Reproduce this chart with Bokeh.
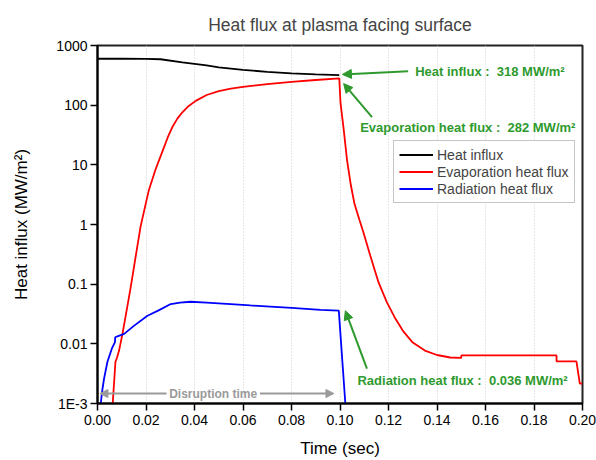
from bokeh.plotting import figure
from bokeh.models import (Range1d, FixedTicker, Legend, LegendItem, Arrow,
                          NormalHead, Label)
from bokeh.embed import file_html
from bokeh.resources import INLINE

# ---------------- data ----------------
t_influx = [0.0, 0.010, 0.020, 0.026, 0.035, 0.045, 0.050, 0.060, 0.070,
            0.080, 0.090, 0.0997]
q_influx = [600, 600, 598, 588, 520, 464, 430, 390, 362, 342, 328, 318]

t_evap = [0.0062, 0.0074, 0.0080, 0.0089, 0.0103, 0.0120, 0.0137, 0.0158,
          0.0178, 0.0195, 0.0212, 0.0240, 0.0267, 0.0290, 0.0310, 0.0330,
          0.0350, 0.0375, 0.0405, 0.0450, 0.0500, 0.0550, 0.060, 0.070,
          0.080, 0.090, 0.0997,
          0.1002, 0.1015, 0.1029, 0.1045, 0.1060, 0.1080, 0.1097, 0.1125,
          0.1159, 0.1193, 0.1225, 0.1262, 0.1300, 0.1350, 0.1400, 0.1454,
          0.1500, 0.1500, 0.1893, 0.1893, 0.1975, 0.1989, 0.2000]
q_evap = [0.0009, 0.0050, 0.0058, 0.0077, 0.0147, 0.036, 0.089, 0.30,
          0.94, 1.9, 3.8, 8.5, 16.5, 29, 44, 60,
          76, 96, 118, 148, 172, 190, 203, 225,
          245, 264, 282,
          110, 40, 12, 4.5, 2.2, 1.2, 0.73, 0.30,
          0.107, 0.050, 0.028, 0.016, 0.0105, 0.0077, 0.0065, 0.0059,
          0.0058, 0.0064, 0.0064, 0.0051, 0.0051, 0.00215, 0.00215]

t_rad = [0.0012, 0.0020, 0.0027, 0.0041, 0.0059, 0.0072, 0.0073, 0.0085,
         0.0110, 0.0150, 0.0206, 0.0250, 0.0302, 0.0340, 0.0384, 0.0450,
         0.0549, 0.0630, 0.0713, 0.0800, 0.0920, 0.0995, 0.1022, 0.1030]
q_rad = [0.0009, 0.0017, 0.0026, 0.0050, 0.0083, 0.0107, 0.0129, 0.0135,
         0.0147, 0.0200, 0.0296, 0.036, 0.0464, 0.049, 0.0507, 0.049,
         0.0464, 0.044, 0.042, 0.040, 0.037, 0.036, 0.0010, 0.0008]

series_names = ["Heat influx", "Evaporation heat flux", "Radiation heat flux"]

x_ticks = [0.00, 0.02, 0.04, 0.06, 0.08, 0.10, 0.12, 0.14, 0.16, 0.18, 0.20]
x_tick_labels = ["0.00", "0.02", "0.04", "0.06", "0.08", "0.10", "0.12",
                 "0.14", "0.16", "0.18", "0.20"]
y_ticks = [0.001, 0.01, 0.1, 1, 10, 100, 1000]
y_tick_labels = ["1E-3", "0.01", "0.1", "1", "10", "100", "1000"]

# annotated values
influx_end = 318
evap_end = 282
rad_end = 0.036
disruption_end = 0.10

# ---------------- figure ----------------
FONT = "Liberation Sans"
GREEN = "#2e9a2e"
GRAY = "#9a9a9a"
SP = "\u00a0"

p = figure(width=596, height=460, output_backend="svg", toolbar_location=None,
           y_axis_type="log", x_range=Range1d(0, 0.2),
           y_range=Range1d(1e-3, 1000),
           min_border_left=97, min_border_right=14, min_border_top=45,
           min_border_bottom=56,
           title="Heat flux at plasma facing surface")

p.title.text_font = FONT
p.title.text_font_size = "17.5px"
p.title.text_font_style = "normal"
p.title.align = "center"
p.title.standoff = 22

p.outline_line_color = "#222222"
p.outline_line_width = 2
p.background_fill_color = "white"
p.border_fill_color = "white"

p.ygrid.visible = False
p.xgrid.grid_line_color = "#cfcfcf"
p.xgrid.grid_line_dash = "1 2"
p.xgrid.grid_line_width = 1

p.xaxis.ticker = FixedTicker(ticks=x_ticks)
p.xaxis.major_label_overrides = {t: l for t, l in zip(x_ticks, x_tick_labels)}
p.yaxis.ticker = FixedTicker(ticks=y_ticks)
p.yaxis.major_label_overrides = {t: l for t, l in zip(y_ticks, y_tick_labels)}

for ax in (p.xaxis, p.yaxis):
    ax.axis_line_width = 2
    ax.axis_line_color = "black"
    ax.major_tick_line_width = 1.5
    ax.major_tick_line_color = "black"
    ax.major_tick_out = 7
    ax.major_tick_in = 0
    ax.minor_tick_out = 0
    ax.minor_tick_in = 0
    ax.major_label_text_font = FONT
    ax.major_label_text_font_size = "14px"
    ax.major_label_text_color = "black"
    ax.axis_label_text_font = FONT
    ax.axis_label_text_font_size = "17px"
    ax.axis_label_text_font_style = "normal"
    ax.axis_label_text_color = "black"

p.xaxis.axis_label = "Time (sec)"
p.yaxis.axis_label = "Heat influx (MW/m²)"
p.xaxis.major_label_standoff = 4
p.yaxis.major_label_standoff = 3
p.xaxis.axis_label_standoff = 11
p.yaxis.axis_label_standoff = 22

r1 = p.line(t_influx, q_influx, line_color="black", line_width=1.8)
r2 = p.line(t_evap, q_evap, line_color="#ff0000", line_width=1.8)
r3 = p.line(t_rad, q_rad, line_color="#0000ff", line_width=1.8)

legend = Legend(items=[LegendItem(label=series_names[0], renderers=[r1]),
                       LegendItem(label=series_names[1], renderers=[r2]),
                       LegendItem(label=series_names[2], renderers=[r3])],
                location=(296, 200))
legend.label_text_font = FONT
legend.label_text_font_size = "14px"
legend.label_height = 17
legend.glyph_height = 17
legend.glyph_width = 34
legend.label_standoff = 4
legend.spacing = 0
legend.padding = 5
legend.margin = 0
legend.border_line_color = "#8c8c8c"
legend.border_line_width = 1.5
legend.background_fill_color = "white"
legend.background_fill_alpha = 1
p.add_layout(legend, "center")

# ---------------- annotations ----------------
def green_arrow(xs, ys, xe, ye):
    p.add_layout(Arrow(end=NormalHead(size=9, fill_color=GREEN, line_color=GREEN),
                       x_start=xs, y_start=ys, x_end=xe, y_end=ye,
                       line_color=GREEN, line_width=2))

def green_label(x, y, text):
    p.add_layout(Label(x=x, y=y, text=text, text_font=FONT,
                       text_font_size="13px", text_font_style="bold",
                       text_color=GREEN, text_baseline="middle",
                       text_align="left"))

green_arrow(0.1281, 369, 0.1010, 328)
green_label(0.1310, 373, f"Heat influx{SP}:{SP}{SP}{influx_end} MW/m²")

green_arrow(0.1132, 63, 0.1015, 230)
green_label(0.1083, 43, f"Evaporation heat flux{SP}:{SP}{SP}{evap_end} MW/m²")

green_arrow(0.1111, 0.00383, 0.1022, 0.0359)
green_label(0.1072, 0.00245, f"Radiation heat flux{SP}:{SP}{SP}{rad_end} MW/m²")

# disruption time double arrow
p.add_layout(Arrow(end=NormalHead(size=8, fill_color=GRAY, line_color=GRAY),
                   x_start=0.0285, y_start=0.00147, x_end=0.0010, y_end=0.00147,
                   line_color=GRAY, line_width=2))
p.add_layout(Arrow(end=NormalHead(size=8, fill_color=GRAY, line_color=GRAY),
                   x_start=0.0670, y_start=0.00147, x_end=disruption_end - 0.0025,
                   y_end=0.00147, line_color=GRAY, line_width=2))
p.add_layout(Label(x=0.0477, y=0.00147, text="Disruption time", text_font=FONT,
                   text_font_size="12px", text_font_style="bold",
                   text_color=GRAY, text_baseline="middle", text_align="center"))

open("out.html", "w").write(file_html(p, INLINE))
